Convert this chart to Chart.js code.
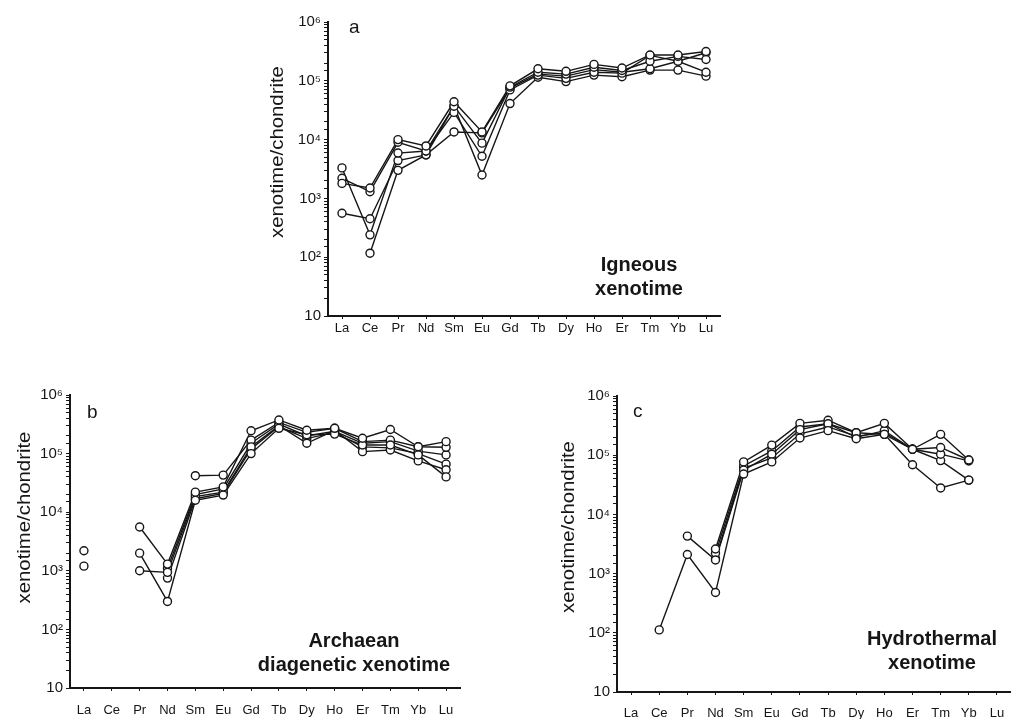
<!DOCTYPE html>
<html>
<head>
<meta charset="utf-8">
<script src="https://cdn.jsdelivr.net/npm/chart.js@4.4.1/dist/chart.umd.min.js"></script>
<style>
  body { margin: 0; background: #fff; }
  #app { position: relative; width: 1011px; height: 719px; overflow: hidden; background: #fff; }
  #app canvas { position: absolute; }
</style>
</head>
<body>
<div id="app"></div>
<script>
const elements = ["La", "Ce", "Pr", "Nd", "Sm", "Eu", "Gd", "Tb", "Dy", "Ho", "Er", "Tm", "Yb", "Lu"];
const decadeLabels = { 1: "10", 2: "10²", 3: "10³", 4: "10⁴", 5: "10⁵", 6: "10⁶" };

// a - igneous xenotime
const igneous1 = [1800, 1500, 10000, 7800, 44000, 13500, 82000, 160000, 145000, 190000, 165000, 275000, 275000, 315000];
const igneous2 = [2200, 1300, 9000, 6400, 37000, 8700, 78000, 140000, 130000, 170000, 150000, 215000, 260000, 230000];
const igneous3 = [3300, 240, 5900, 6400, 29000, 5200, 70000, 125000, 110000, 140000, 135000, 270000, 215000, 300000];
const igneous4 = [560, 450, 4400, 5500, 13500, 13000, 75000, 130000, 120000, 155000, 140000, 160000, 215000, 140000];
const igneous5 = [null, 117, 3000, 5500, 37000, 2500, 41000, 115000, 97000, 125000, 117000, 152000, 152000, 120000];

// b - archaean diagenetic xenotime
const diagenetic1 = [2200, null, 5600, 1300, 22000, 27000, 245000, 375000, 250000, 270000, 183000, 258000, 131000, 160000];
const diagenetic2 = [1200, null, 2000, 300, 16000, 19600, 100000, 270000, 210000, 215000, 140000, 140000, 95000, 40000];
const diagenetic3 = [null, null, 1000, 940, 18500, 22000, 130000, 300000, 150000, 250000, 108000, 115000, 75000, 53000];
const diagenetic4 = [null, null, null, null, 42000, 43000, 170000, 340000, 230000, 270000, 160000, 170000, 131000, 128000];
const diagenetic5 = [null, null, null, 1100, 20000, 25000, 150000, 320000, 200000, 240000, 150000, 160000, 110000, 95000];
const diagenetic6 = [null, null, null, 750, 17000, 21000, 120000, 290000, 180000, 230000, 130000, 125000, 100000, 66000];

// c - hydrothermal xenotime
const hydrothermal1 = [null, 112, 2100, 480, 48000, 77000, 195000, 260000, 190000, 225000, 69000, 28000, 38000, null];
const hydrothermal2 = [null, null, 4300, 1700, 56000, 104000, 270000, 340000, 240000, 345000, 126000, 225000, 83000, null];
const hydrothermal3 = [null, null, null, 2600, 77000, 148000, 345000, 390000, 240000, 225000, 126000, 135000, 83000, null];
const hydrothermal4 = [null, null, null, 2200, 66000, 118000, 300000, 340000, 200000, 260000, 126000, 104000, 80000, null];
const hydrothermal5 = [null, null, null, 1800, 60000, 90000, 230000, 300000, 210000, 240000, 126000, 81000, 38000, null];

const appBody = document.querySelector("#app");
const ink = "#161616";
const sans = "'Liberation Sans', Arial, sans-serif";

// draws the panel letter, the note and the y title
const panelText = {
  id: "panelText",
  afterDraw(chart, args, opts) {
    const { ctx, chartArea } = chart;
    ctx.save();
    ctx.fillStyle = ink;
    ctx.textBaseline = "alphabetic";

    ctx.font = `19px ${sans}`;
    ctx.textAlign = "left";
    ctx.fillText(opts.letter, chartArea.left + opts.letterAt[0], chartArea.top + opts.letterAt[1]);

    ctx.font = `bold 20px ${sans}`;
    ctx.textAlign = "center";
    opts.note.forEach((line, i) => {
      ctx.fillText(line, chartArea.left + opts.noteAt[0], chartArea.top + opts.noteAt[1] + i * 24);
    });

    // y title, slightly stretched like the scan
    ctx.translate(chartArea.left + opts.titleAt[0], (chartArea.top + chartArea.bottom) / 2 + opts.titleAt[1]);
    ctx.rotate(-Math.PI / 2);
    ctx.scale(1.13, 1);
    ctx.font = `18px ${sans}`;
    ctx.textBaseline = "middle";
    ctx.fillText("xenotime/chondrite", 0, 0);
    ctx.restore();
  },
};

function makeDatasets(seriesList) {
  const lines = seriesList.map((data) => ({
    data: data,
    borderColor: ink,
    borderWidth: 1.4,
    pointRadius: 0,
    tension: 0,
    spanGaps: false,
    order: 1,
  }));
  const points = seriesList.map((data) => ({
    data: data,
    showLine: false,
    pointRadius: 4,
    pointBorderWidth: 1.4,
    pointBorderColor: ink,
    pointBackgroundColor: "#fff",
    order: 0,
  }));
  return lines.concat(points);
}

function renderPanel(panel) {
  const canvas = document.createElement("canvas");
  canvas.style.left = panel.box[0] + "px";
  canvas.style.top = panel.box[1] + "px";
  canvas.width = panel.box[2];
  canvas.height = panel.box[3];
  canvas.style.width = panel.box[2] + "px";
  canvas.style.height = panel.box[3] + "px";
  appBody.appendChild(canvas);

  new Chart(canvas, {
    type: "line",
    data: { labels: elements, datasets: makeDatasets(panel.series) },
    options: {
      responsive: false,
      animation: false,
      events: [],
      layout: { padding: { top: panel.padTop, right: panel.padRight, left: 0, bottom: 0 } },
      plugins: {
        legend: { display: false },
        tooltip: { enabled: false },
        panelText: panel.text,
      },
      scales: {
        x: {
          type: "category",
          offset: true,
          afterFit(scale) {
            scale.height = panel.xHeight;
          },
          grid: { drawOnChartArea: false, tickLength: 3, color: ink, tickWidth: 1 },
          border: { display: true, color: ink, width: 2 },
          ticks: {
            color: ink,
            padding: panel.xPad,
            maxRotation: 0,
            autoSkip: false,
            font: { family: sans, size: 13 },
          },
        },
        y: {
          type: "logarithmic",
          min: 10,
          max: 1000000,
          afterFit(scale) {
            scale.width = panel.yWidth;
          },
          grid: { drawOnChartArea: false, tickLength: 4, color: ink, tickWidth: 1 },
          border: { display: true, color: ink, width: 2 },
          ticks: {
            color: ink,
            padding: 3,
            autoSkip: false,
            font: { family: sans, size: 15 },
            callback(value) {
              const power = Math.log10(value);
              const rounded = Math.round(power);
              return Math.abs(power - rounded) < 1e-9 ? decadeLabels[rounded] : "";
            },
          },
        },
      },
    },
    plugins: [panelText],
  });
}

renderPanel({
  box: [250, 0, 480, 345],
  padTop: 22,
  padRight: 10,
  yWidth: 78,
  xHeight: 29,
  xPad: 2,
  series: [igneous1, igneous2, igneous3, igneous4, igneous5],
  text: { letter: "a", letterAt: [21, 11], note: ["Igneous", "xenotime"], noteAt: [311, 249], titleAt: [-50, -17] },
});

renderPanel({
  box: [0, 370, 470, 349],
  padTop: 25,
  padRight: 10,
  yWidth: 70,
  xHeight: 31,
  xPad: 12,
  series: [diagenetic1, diagenetic2, diagenetic3, diagenetic4, diagenetic5, diagenetic6],
  text: { letter: "b", letterAt: [17, 23], note: ["Archaean", "diagenetic xenotime"], noteAt: [284, 252], titleAt: [-45, -24] },
});

// right panel runs off the page edge, as in the scan
renderPanel({
  box: [545, 370, 486, 349],
  padTop: 26,
  padRight: 20,
  yWidth: 72,
  xHeight: 27,
  xPad: 11,
  series: [hydrothermal1, hydrothermal2, hydrothermal3, hydrothermal4, hydrothermal5],
  text: { letter: "c", letterAt: [16, 21], note: ["Hydrothermal", "xenotime"], noteAt: [315, 249], titleAt: [-48, -17] },
});
</script>
</body>
</html>
